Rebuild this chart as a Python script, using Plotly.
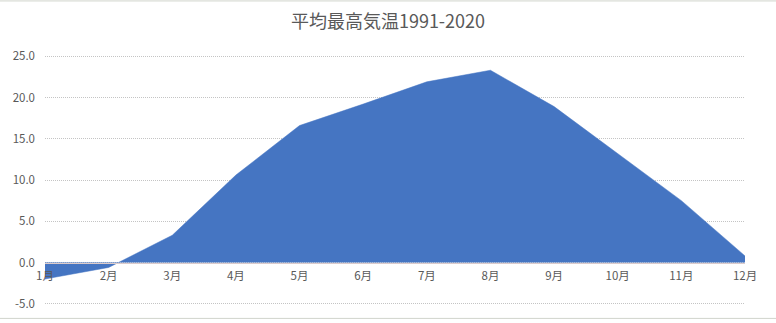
import plotly.graph_objects as go

months = ["1月", "2月", "3月", "4月", "5月", "6月", "7月", "8月", "9月", "10月", "11月", "12月"]
max_temp = [-2.0, -0.6, 3.3, 10.6, 16.6, 19.2, 21.9, 23.3, 18.9, 13.2, 7.5, 0.8]
y_ticks = [-5, 0, 5, 10, 15, 20, 25]
y_labels = ["-5.0", "0.0", "5.0", "10.0", "15.0", "20.0", "25.0"]
title_text = "平均最高気温1991-2020"

font_family = "Noto Sans CJK JP, Noto Sans, sans-serif"
text_color = "#595959"

Y_MIN, Y_MAX = -5.15, 25.15
H, T, B = 323, 55, 16
PH = H - T - B


def py(px):
    return (H - px - B) / PH


fig = go.Figure()
fig.add_trace(go.Scatter(
    x=months, y=max_temp, mode="lines", fill="tozeroy",
    line=dict(color="#4575C2", width=0.5), fillcolor="#4575C2",
    hoverinfo="x+y", showlegend=False,
))

fig.update_layout(
    width=776, height=H,
    margin=dict(l=45, r=31, t=T, b=B),
    paper_bgcolor="white", plot_bgcolor="white",
    font=dict(family=font_family, color=text_color, size=11.5),
    title=dict(text=title_text, x=0.5, xanchor="center", y=1 - 22 / H, yanchor="middle",
               font=dict(size=18, color=text_color, family=font_family)),
    xaxis=dict(
        type="category", range=[0, 11], anchor="free", position=(0 - Y_MIN) / (Y_MAX - Y_MIN),
        showgrid=False, showline=True, linecolor="#dccbcb", linewidth=1,
        ticks="", tickfont=dict(size=11.5, color=text_color), ticklabelstandoff=3,
        zeroline=False, fixedrange=True,
    ),
    yaxis=dict(
        range=[Y_MIN, Y_MAX], tickvals=y_ticks, ticktext=y_labels,
        showgrid=True, gridcolor="#c4c4c4", griddash="1px,1px", gridwidth=1,
        zeroline=False, showline=False, ticks="", ticklabelstandoff=9,
        tickfont=dict(size=11.5, color=text_color), fixedrange=True,
    ),
    shapes=[
        dict(type="line", xref="paper", yref="paper", x0=-45/700, x1=731/700,
             y0=py(0.5), y1=py(0.5), line=dict(color="#d0d4cc", width=1)),
        dict(type="line", xref="paper", yref="paper", x0=-45/700, x1=731/700,
             y0=py(320.5), y1=py(320.5), line=dict(color="#d0d4cc", width=1)),
    ],
)

fig.write_html("out.html")
